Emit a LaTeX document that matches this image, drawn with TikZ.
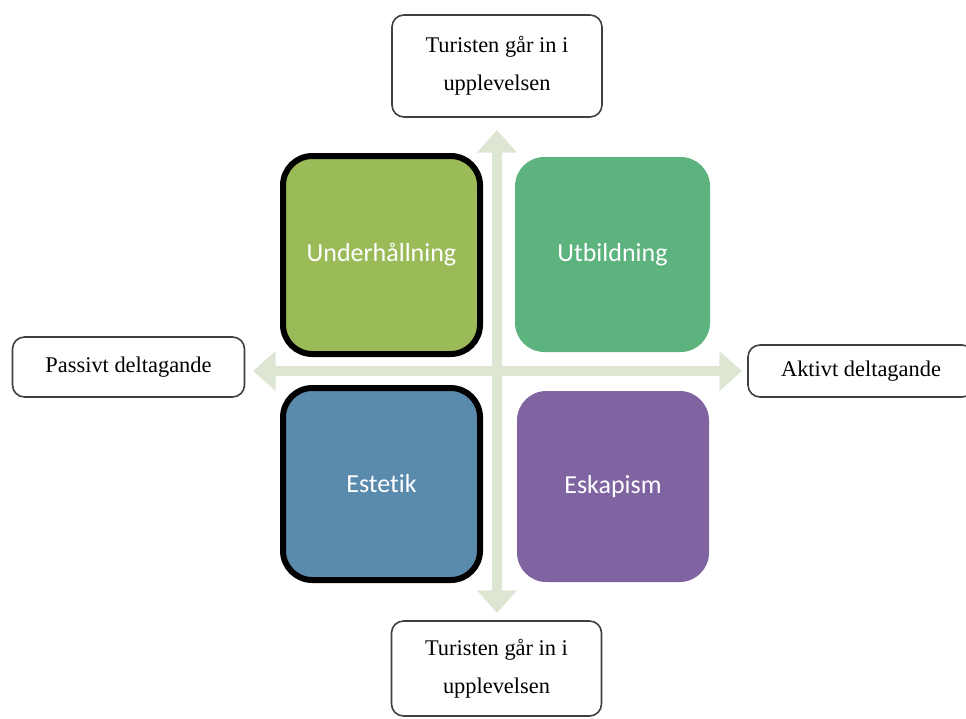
\documentclass[tikz,border=0pt]{standalone}
\usepackage{fontspec}
\setmainfont{Liberation Serif}
\newfontfamily\quadfont[Ligatures=NoCommon]{Carlito}
\usetikzlibrary{arrows.meta}
\definecolor{axiscol}{RGB}{221,230,211}
\definecolor{entcol}{RGB}{155,187,89}
\definecolor{educol}{RGB}{93,179,126}
\definecolor{estcol}{RGB}{91,139,172}
\definecolor{escol}{RGB}{128,100,162}
\begin{document}
\begin{tikzpicture}[x=0.75pt,y=-0.75pt,
  note/.style={draw=black!75, line width=1.2pt, rounded corners=9pt, fill=white,
    align=center, inner sep=0pt, font=\fontsize{16.8}{28.5}\selectfont},
  quad/.style={rounded corners=22pt, inner sep=0pt, text=white,
    font=\quadfont\fontsize{19.5}{22}\selectfont},
  framed/.style={quad, draw=black, line width=4.5pt},
  axis/.style={draw=axiscol, line width=7pt,
    {Triangle[width=29pt,length=17pt]}-{Triangle[width=29pt,length=17pt]}}]
\useasboundingbox (0,0) rectangle (966,718);
\clip (0,0) rectangle (966,718);

% axes
\coordinate (ntip) at (497,130);
\coordinate (stip) at (497,613);
\coordinate (wtip) at (253,371);
\coordinate (etip) at (742,371);
\draw[axis] (ntip) -- (stip);
\draw[axis] (wtip) -- (etip);

% four quadrants
\node[framed, fill=entcol, minimum width=147.75pt, minimum height=148.5pt] (ent) at (381.5,255) {Underhållning};
\node[quad, fill=educol, minimum width=146.25pt, minimum height=146.25pt] (edu) at (612.5,254.5) {Utbildning};
\node[framed, fill=estcol, minimum width=147.75pt, minimum height=144pt] (est) at (381.5,484) {Estetik};
\node[quad, fill=escol, minimum width=144pt, minimum height=143.25pt] (esc) at (613,486.5) {Eskapism};

% axis labels
\node[note, minimum width=157.5pt, minimum height=76.5pt] (top) at (497,66) {Turisten går in i\\upplevelsen};
\node[note, minimum width=157.5pt, minimum height=71.25pt] (bot) at (496.5,668.5) {Turisten går in i\\upplevelsen};
\node[note, minimum width=174pt, minimum height=45pt] (left) at (128.5,367) {Passivt deltagande};
\node[note, minimum width=169.5pt, minimum height=39pt] (right) at (861,371) {Aktivt deltagande};
\end{tikzpicture}
\end{document}
